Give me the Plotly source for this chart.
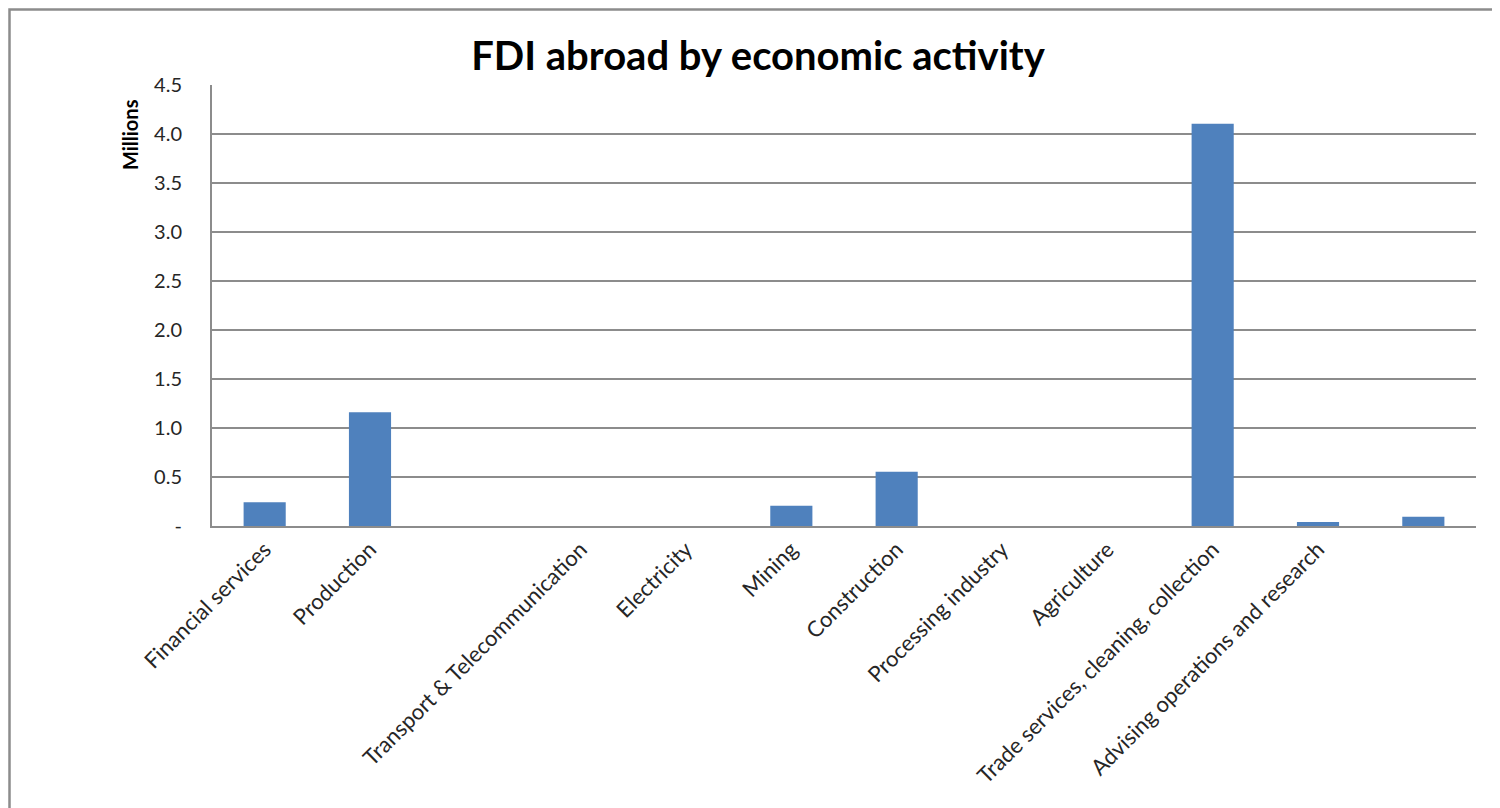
import plotly.graph_objects as go

categories = ["Financial services", "Production", "", "Transport & Telecommunication",
              "Electricity", "Mining", "Construction", "Processing industry",
              "Agriculture", "Trade services, cleaning, collection",
              "Advising operations and research", ""]
values = [0.242, 1.160, 0.0, 0.0, 0.0, 0.207, 0.554, 0.0, 0.0, 4.105, 0.041, 0.095]
y_tickvals = [0, 0.5, 1.0, 1.5, 2.0, 2.5, 3.0, 3.5, 4.0, 4.5]
y_ticktext = ["-", "0.5", "1.0", "1.5", "2.0", "2.5", "3.0", "3.5", "4.0", "4.5"]

positions = list(range(len(categories)))

# page offset of the figure (browser default body margin)
OFF = 8
PLOT_L, PLOT_R, PLOT_T, PLOT_B = 212, 1476, 85, 526
PW, PH = PLOT_R - PLOT_L, PLOT_B - PLOT_T

fig = go.Figure()
fig.add_trace(go.Bar(
    x=positions, y=values,
    marker=dict(color="#4F81BD", line=dict(width=0)),
    hoverinfo="x+y",
))

grid = "#8C8C8C"
fig.update_layout(
    width=1500, height=808,
    paper_bgcolor="white", plot_bgcolor="white",
    margin=dict(l=PLOT_L - OFF, r=1500 - PLOT_R + OFF, t=PLOT_T - OFF, b=808 - PLOT_B + OFF),
    bargap=0.6,
    showlegend=False,
    font=dict(family="Lato", color="#262626"),
    title=dict(text="<b>FDI abroad by economic activity</b>",
               font=dict(family="Lato", size=40, color="black"),
               x=(758 - OFF) / 1500, xanchor="center", y=1 - (56 - OFF) / 808, yanchor="middle"),
    xaxis=dict(
        range=[-0.5, len(categories) - 0.5],
        tickmode="array", tickvals=positions, ticktext=categories,
        tickangle=-45, tickfont=dict(size=22, color="#262626"),
        showgrid=False, zeroline=False,
        showline=True, linecolor=grid, linewidth=2,
        ticks="",
    ),
    yaxis=dict(
        range=[0, 4.5],
        tickmode="array", tickvals=y_tickvals, ticktext=y_ticktext,
        tickfont=dict(size=20, color="#262626"),
        showgrid=True, gridcolor=grid, gridwidth=1.5,
        zeroline=False,
        showline=True, linecolor=grid, linewidth=2,
        ticks="", ticklabelstandoff=24,
    ),
    annotations=[dict(
        text="<b>Millions</b>", textangle=-90,
        xref="paper", yref="paper",
        x=(130 - PLOT_L) / PW, y=(PLOT_B - 135) / PH,
        xanchor="center", yanchor="middle", showarrow=False,
        font=dict(family="Lato", size=20, color="black"),
    )],
    shapes=[dict(
        type="rect", xref="paper", yref="paper",
        x0=(OFF + 1.5 - PLOT_L) / PW, x1=(1530 - PLOT_L) / PW,
        y0=(PLOT_B - 840) / PH, y1=(PLOT_B - OFF - 1.5) / PH,
        line=dict(color="#8C8C8C", width=2.5), fillcolor="rgba(0,0,0,0)",
        layer="below",
    )],
)

fig.write_html("out.html")
